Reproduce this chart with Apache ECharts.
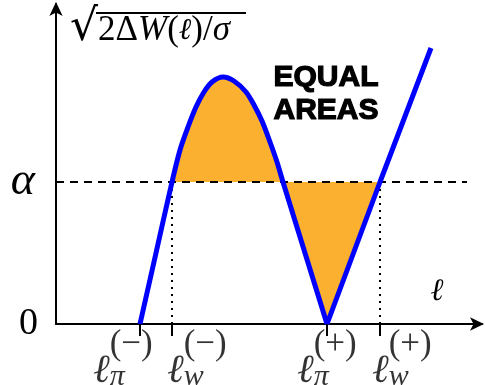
<!DOCTYPE html>
<html lang="en">
<head>
<meta charset="UTF-8">
<title>Equal areas</title>
<script src="https://cdn.jsdelivr.net/npm/echarts@6/dist/echarts.min.js"></script>
<style>
html, body { margin: 0; padding: 0; background: #fff; }
#main { width: 485px; height: 385px; }
</style>
</head>
<body>
<div id="main"></div>
<script>
// curve sqrt(2ΔW(ℓ)/σ)
var curveX = [84, 100, 116, 124, 132, 140, 148, 156, 167, 178, 190, 198, 206, 214, 221, 227, 249, 271];
var curveY = [0, 71, 142, 174, 197, 217, 232, 242, 247, 243, 232, 219, 203, 182, 162, 142, 71, 0];
// straight branch after ℓπ(+)
var rampX = [271, 324, 375];
var rampY = [0, 142, 276];
var alpha = 142;
var alphaEnd = 411;
// ticks on the ℓ axis
var tickX = [84, 116, 271, 324];
var tickSub = ['π', 'w', 'π', 'w'];
var tickSup = ['(−)', '(−)', '(+)', '(+)'];
var tickShift = [-47, -5, -30, -8];

var serif = '"Liberation Serif", "DejaVu Serif", serif';

function pts(xs, ys) {
    return xs.map(function (x, i) { return [x, ys[i]]; });
}
var curve = pts(curveX, curveY);
var ramp = pts(rampX, rampY);
var peak = curveY.indexOf(Math.max.apply(null, curveY));
// part above alpha (hump) and part below alpha (V)
var humpFill = curve.filter(function (p) { return p[1] >= alpha; });
var vFill = curve.filter(function (p, i) { return i > peak && p[1] <= alpha; })
    .concat(ramp.filter(function (p) { return p[1] <= alpha && p[0] > curveX[curveX.length - 1]; }));

var chart = echarts.init(document.getElementById('main'));
chart.setOption({
    animation: false,
    title: {
        text: 'EQUAL\nAREAS',
        left: 321,
        top: 56,
        textAlign: 'center',
        textStyle: {
            fontFamily: '"Liberation Sans", Arial, sans-serif',
            fontWeight: 'bold',
            fontSize: 30,
            lineHeight: 33,
            color: '#000',
            textBorderColor: '#000',
            textBorderWidth: 1.2
        }
    },
    grid: { left: 56, right: 3, top: 4, bottom: 61 },
    xAxis: {
        type: 'value',
        min: 0,
        max: 426,
        name: 'ℓ',
        nameLocation: 'end',
        nameGap: -45,
        nameTextStyle: {
            fontFamily: '"DejaVu Serif", serif', fontStyle: 'italic', fontSize: 31, color: '#000',
            align: 'center', verticalAlign: 'bottom', padding: [0, 0, 17, 0]
        },
        splitLine: { show: false },
        axisLine: {
            symbol: ['none', 'arrow'],
            symbolSize: [10, 14],
            symbolOffset: [0, 2],
            lineStyle: { color: '#000', width: 2 }
        },
        axisTick: {
            show: true,
            customValues: tickX,
            length: 12,
            lineStyle: { color: '#000', width: 2 }
        },
        axisLabel: { show: false }
    },
    yAxis: {
        type: 'value',
        min: 0,
        max: 320,
        interval: alpha,
        name: '{sp| }{bar| }\n{rt|√}{tx|2Δ}{it|W}{tx|(}{il|ℓ}{tx|)/}{it|σ}',
        nameLocation: 'end',
        nameGap: -8,
        nameTextStyle: {
            align: 'left', verticalAlign: 'top', padding: [0, 0, 0, 14],
            rich: {
                sp: { width: 26, height: 2, lineHeight: 2, fontSize: 2 },
                bar: { width: 150, height: 2, lineHeight: 2, fontSize: 2, backgroundColor: '#000' },
                rt: { fontFamily: '"DejaVu Sans"', fontSize: 44, lineHeight: 34, color: '#000', padding: [0, 0, 4, 0] },
                tx: { fontFamily: serif, fontSize: 35, lineHeight: 34, color: '#000' },
                it: { fontFamily: serif, fontStyle: 'italic', fontSize: 35, lineHeight: 34, color: '#000' },
                il: { fontFamily: '"DejaVu Serif", serif', fontStyle: 'italic', fontSize: 30, lineHeight: 34, color: '#000' }
            }
        },
        splitLine: { show: false },
        axisLine: {
            symbol: ['none', 'arrow'],
            symbolSize: [10, 14],
            symbolOffset: [0, 2],
            lineStyle: { color: '#000', width: 2 }
        },
        axisTick: { show: false },
        axisLabel: {
            margin: 18,
            fontFamily: serif,
            fontSize: 38,
            color: '#000',
            formatter: function (v) {
                if (v === 0) return '0';
                if (v === alpha) return '{a|α}';
                return '';
            },
            rich: { a: { fontFamily: serif, fontStyle: 'italic', fontSize: 46, color: '#000', padding: [0, 3, 0, 0] } }
        }
    },
    series: [
        {
            name: 'hump',
            type: 'line',
            data: humpFill,
            smooth: 0.3,
            symbol: 'none',
            lineStyle: { width: 0 },
            areaStyle: { origin: alpha, color: '#fbb030', opacity: 1 },
            z: 1
        },
        {
            name: 'vee',
            type: 'line',
            data: vFill,
            symbol: 'none',
            lineStyle: { width: 0 },
            areaStyle: { origin: alpha, color: '#fbb030', opacity: 1 },
            z: 1
        },
        {
            name: 'alpha',
            type: 'line',
            data: [[0, alpha], [alphaEnd, alpha]],
            symbol: 'none',
            lineStyle: { color: '#000', width: 2, type: [8, 6] },
            z: 2
        },
        {
            name: 'lw-',
            type: 'line',
            data: [[tickX[1], 0], [tickX[1], alpha]],
            symbol: 'none',
            lineStyle: { color: '#000', width: 2, type: [2, 5] },
            z: 2
        },
        {
            name: 'lw+',
            type: 'line',
            data: [[tickX[3], 0], [tickX[3], alpha]],
            symbol: 'none',
            lineStyle: { color: '#000', width: 2, type: [2, 5] },
            z: 2
        },
        {
            name: 'curve',
            type: 'line',
            data: curve,
            smooth: 0.3,
            symbol: 'none',
            clip: false,
            lineStyle: { color: '#0000ff', width: 5 },
            z: 3
        },
        {
            name: 'ramp',
            type: 'line',
            data: ramp,
            symbol: 'none',
            clip: false,
            lineStyle: { color: '#0000ff', width: 5 },
            z: 3
        },
        {
            name: 'ticklabels',
            type: 'scatter',
            symbolSize: 0,
            silent: true,
            clip: false,
            data: tickX.map(function (x, i) {
                return { value: [x, 0], label: { offset: [tickShift[i], 9] } };
            }),
            label: {
                show: true,
                position: 'inside',
                align: 'left',
                verticalAlign: 'top',
                formatter: function (p) {
                    var i = p.dataIndex;
                    return '{gap|ℓ}{sup|' + tickSup[i] + '}\n{l|ℓ}{sub|' + tickSub[i] + '}';
                },
                rich: {
                    gap: { fontFamily: '"DejaVu Serif", serif', fontStyle: 'italic', fontSize: 40, lineHeight: 24, color: 'rgba(0,0,0,0)' },
                    sup: { fontFamily: serif, fontSize: 35, lineHeight: 24, color: '#000' },
                    l: { fontFamily: '"DejaVu Serif", serif', fontStyle: 'italic', fontSize: 40, lineHeight: 30, color: '#000' },
                    sub: { fontFamily: serif, fontStyle: 'italic', fontSize: 30, lineHeight: 30, color: '#000', padding: [10, 0, 0, 0] }
                }
            }
        }
    ]
});
</script>
</body>
</html>
